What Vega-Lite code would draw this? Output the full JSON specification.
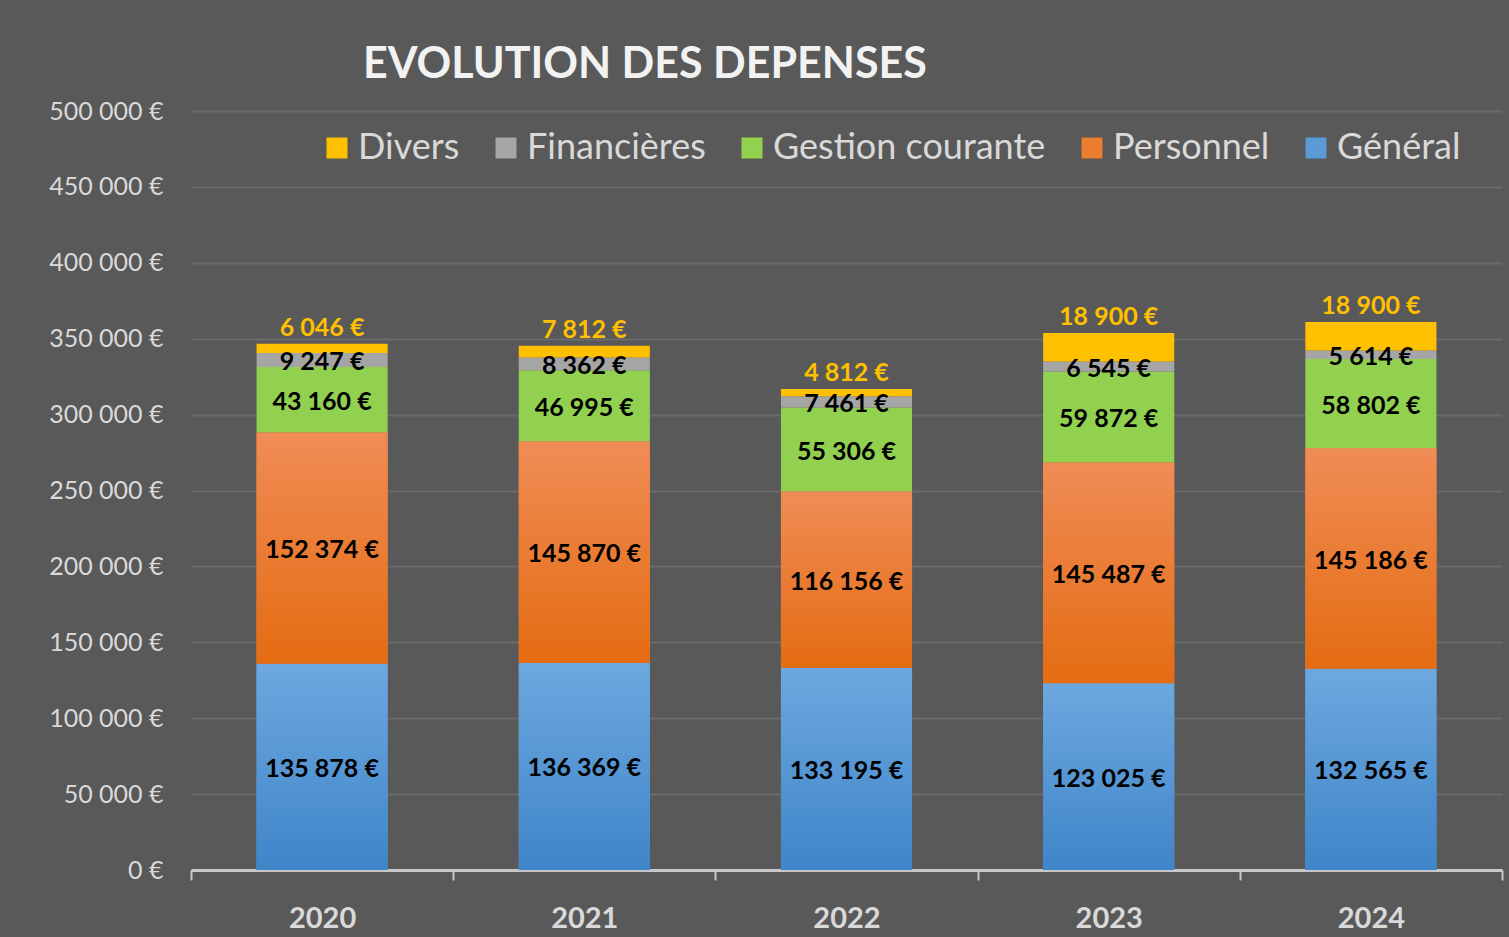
{
  "$schema": "https://vega.github.io/schema/vega-lite/v6.json",
  "autosize": {"type": "none"},
  "padding": {"left": 191, "top": 111, "right": 7, "bottom": 67},
  "width": 1311,
  "height": 759,
  "background": "#595959",
  "title": {
    "text": "EVOLUTION DES DEPENSES",
    "anchor": "start",
    "frame": "group",
    "dx": 172,
    "dy": 18,
    "font": "Lato",
    "fontSize": 43,
    "fontWeight": "bold",
    "color": "#F2F2F2",
    "offset": 30
  },
  "data": {
    "values": [
      {"annee": "2020", "poste": "Général", "valeur": 135878},
      {"annee": "2020", "poste": "Personnel", "valeur": 152374},
      {"annee": "2020", "poste": "Gestion courante", "valeur": 43160},
      {"annee": "2020", "poste": "Financières", "valeur": 9247},
      {"annee": "2020", "poste": "Divers", "valeur": 6046},
      {"annee": "2021", "poste": "Général", "valeur": 136369},
      {"annee": "2021", "poste": "Personnel", "valeur": 145870},
      {"annee": "2021", "poste": "Gestion courante", "valeur": 46995},
      {"annee": "2021", "poste": "Financières", "valeur": 8362},
      {"annee": "2021", "poste": "Divers", "valeur": 7812},
      {"annee": "2022", "poste": "Général", "valeur": 133195},
      {"annee": "2022", "poste": "Personnel", "valeur": 116156},
      {"annee": "2022", "poste": "Gestion courante", "valeur": 55306},
      {"annee": "2022", "poste": "Financières", "valeur": 7461},
      {"annee": "2022", "poste": "Divers", "valeur": 4812},
      {"annee": "2023", "poste": "Général", "valeur": 123025},
      {"annee": "2023", "poste": "Personnel", "valeur": 145487},
      {"annee": "2023", "poste": "Gestion courante", "valeur": 59872},
      {"annee": "2023", "poste": "Financières", "valeur": 6545},
      {"annee": "2023", "poste": "Divers", "valeur": 18900},
      {"annee": "2024", "poste": "Général", "valeur": 132565},
      {"annee": "2024", "poste": "Personnel", "valeur": 145186},
      {"annee": "2024", "poste": "Gestion courante", "valeur": 58802},
      {"annee": "2024", "poste": "Financières", "valeur": 5614},
      {"annee": "2024", "poste": "Divers", "valeur": 18900}
    ]
  },
  "transform": [
    {"stack": "valeur", "groupby": ["annee"], "as": ["v0", "v1"]},
    {"calculate": "(datum.v0 + datum.v1) / 2", "as": "milieu"}
  ],
  "encoding": {
    "x": {
      "field": "annee",
      "type": "nominal",
      "scale": {"paddingInner": 0, "paddingOuter": 0},
      "axis": {
        "title": null,
        "labelAngle": 0,
        "labelFont": "Lato",
        "labelFontSize": 29,
        "labelFontWeight": "bold",
        "labelColor": "#D9D9D9",
        "labelPadding": 24,
        "domainColor": "#C8C8C8",
        "domainWidth": 3,
        "tickColor": "#C8C8C8",
        "tickWidth": 2,
        "tickSize": 10,
        "tickBand": "extent",
        "grid": false
      }
    }
  },
  "layer": [
    {
      "mark": {"type": "bar", "width": {"band": 0.5}},
      "encoding": {
        "y": {
          "field": "v1",
          "type": "quantitative",
          "scale": {"domain": [0, 500000], "nice": false},
          "axis": {
            "title": null,
            "values": [0, 50000, 100000, 150000, 200000, 250000, 300000, 350000, 400000, 450000, 500000],
            "format": "$,.0f",
            "labelFont": "Lato",
            "labelFontSize": 25,
            "labelColor": "#D9D9D9",
            "labelPadding": 28,
            "domain": false,
            "ticks": false,
            "grid": true,
            "gridColor": "#6B6B6B",
            "gridWidth": 2
          }
        },
        "y2": {"field": "v0"},
        "color": {
          "field": "poste",
          "type": "nominal",
          "scale": {
            "domain": ["Divers", "Financières", "Gestion courante", "Personnel", "Général"],
            "range": ["#FFC000", "#A5A5A5", "#92D050", "#ED7D31", "#5B9BD5"]
          },
          "legend": {
            "title": null,
            "orient": "none",
            "legendX": 128,
            "legendY": 19,
            "padding": 0,
            "direction": "horizontal",
            "labelFont": "Lato",
            "labelFontSize": 36,
            "labelColor": "#D9D9D9",
            "labelLimit": 500,
            "labelOffset": 3,
            "symbolType": "square",
            "symbolSize": 441,
            "symbolStrokeWidth": 0,
            "columnPadding": 28
          }
        }
      }
    },
    {
      "transform": [{"filter": "datum.poste === 'Général'"}],
      "mark": {
        "type": "bar",
        "width": {"band": 0.5},
        "color": {
          "gradient": "linear", "x1": 0, "y1": 0, "x2": 0, "y2": 1,
          "stops": [{"offset": 0, "color": "#6DA8DF"}, {"offset": 1, "color": "#3F85C9"}]
        }
      },
      "encoding": {
        "y": {"field": "v1", "type": "quantitative"},
        "y2": {"field": "v0"}
      }
    },
    {
      "transform": [{"filter": "datum.poste === 'Personnel'"}],
      "mark": {
        "type": "bar",
        "width": {"band": 0.5},
        "color": {
          "gradient": "linear", "x1": 0, "y1": 0, "x2": 0, "y2": 1,
          "stops": [{"offset": 0, "color": "#F08C56"}, {"offset": 1, "color": "#E46C12"}]
        }
      },
      "encoding": {
        "y": {"field": "v1", "type": "quantitative"},
        "y2": {"field": "v0"}
      }
    },
    {
      "transform": [{"filter": "datum.poste !== 'Divers'"}],
      "mark": {"type": "text", "font": "Lato", "fontSize": 25, "fontWeight": "bold", "color": "#000000", "baseline": "middle", "dy": 2},
      "encoding": {
        "y": {"field": "milieu", "type": "quantitative"},
        "text": {"field": "valeur", "type": "quantitative", "format": "$,.0f"}
      }
    },
    {
      "transform": [{"filter": "datum.poste === 'Divers'"}],
      "mark": {"type": "text", "font": "Lato", "fontSize": 25, "fontWeight": "bold", "color": "#FFC000", "baseline": "bottom", "dy": -3},
      "encoding": {
        "y": {"field": "v1", "type": "quantitative"},
        "text": {"field": "valeur", "type": "quantitative", "format": "$,.0f"}
      }
    }
  ],
  "config": {
    "font": "Lato",
    "view": {"stroke": null},
    "locale": {
      "number": {"decimal": ",", "thousands": " ", "grouping": [3], "currency": ["", " €"]}
    }
  }
}
